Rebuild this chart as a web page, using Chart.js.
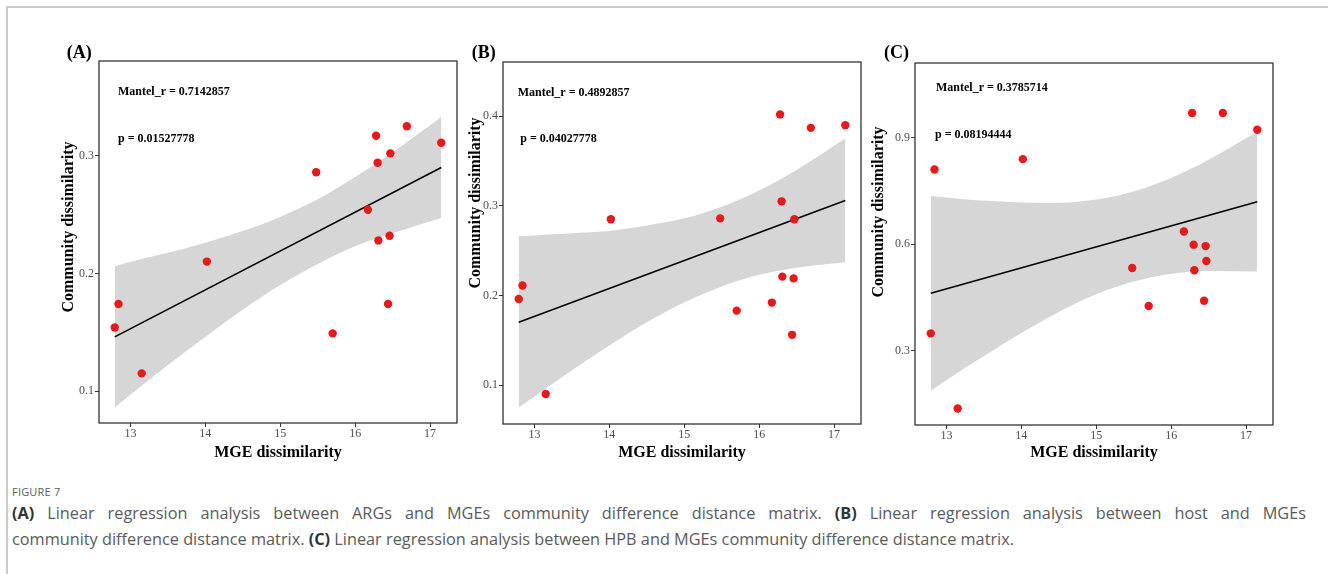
<!DOCTYPE html>
<html>
<head>
<meta charset="utf-8">
<script src="https://cdn.jsdelivr.net/npm/chart.js@4.4.1/dist/chart.umd.min.js"></script>
<style>
  html, body { margin: 0; padding: 0; background: #fff; }
  body { width: 1328px; height: 574px; position: relative; overflow: hidden; }
  .frame { position: absolute; left: 6px; top: 6px; width: 1330px; height: 570px;
           border-top: 2px solid #cbcbcb; border-left: 2px solid #cbcbcb; }
  .panel { position: absolute; top: 40px; height: 430px; }
  .caption { position: absolute; left: 12px; top: 484px; font-family: "Open Sans", sans-serif; color: #5a5a5a; }
  .caption .fig { font-size: 11px; line-height: 16px; letter-spacing: 0.2px; }
  .caption .line { font-size: 16.3px; line-height: 26px; white-space: nowrap; }
  .caption .just { width: 1294px; text-align: justify; text-align-last: justify; }
  .caption b { color: #333; }
</style>
</head>
<body>
<div class="frame"></div>
<div class="panel" style="left:40px;width:425px"><canvas id="chartA" width="425" height="430"></canvas></div>
<div class="panel" style="left:466px;width:405px"><canvas id="chartB" width="405" height="430"></canvas></div>
<div class="panel" style="left:870px;width:410px"><canvas id="chartC" width="410" height="430"></canvas></div>
<div class="caption">
  <div class="fig">FIGURE 7</div>
  <div class="line just"><b>(A)</b> Linear regression analysis between ARGs and MGEs community difference distance matrix. <b>(B)</b> Linear regression analysis between host and MGEs</div>
  <div class="line">community difference distance matrix. <b>(C)</b> Linear regression analysis between HPB and MGEs community difference distance matrix.</div>
</div>
<script>
Chart.defaults.font.family = "'Liberation Serif', 'Times New Roman', serif";
Chart.defaults.animation = false;

// MGE dissimilarity, same x for all three panels
const mgeDissim = [12.79, 12.84, 13.15, 14.02, 15.48, 15.70, 16.17, 16.28, 16.30, 16.31, 16.44, 16.46, 16.47, 16.69, 17.15];

// community dissimilarity per panel
const argDissim  = [0.154, 0.174, 0.115, 0.210, 0.286, 0.149, 0.254, 0.317, 0.294, 0.228, 0.174, 0.232, 0.302, 0.325, 0.311];
const hostDissim = [0.196, 0.211, 0.090, 0.285, 0.286, 0.183, 0.192, 0.402, 0.305, 0.221, 0.156, 0.219, 0.285, 0.387, 0.390];
const hpbDissim  = [0.349, 0.811, 0.137, 0.840, 0.533, 0.426, 0.636, 0.970, 0.599, 0.527, 0.441, 0.595, 0.553, 0.970, 0.923];

// fitted lines (ends)
const fitX = [12.79, 17.15];
const fitA = [0.146, 0.290];
const fitB = [0.170, 0.306];
const fitC = [0.462, 0.720];

// confidence band edges
const bandX = [12.79, 13.2, 13.6, 14.0, 14.5, 15.0, 15.5, 16.0, 16.5, 17.15];
const upperA = [0.206, 0.213, 0.219, 0.226, 0.236, 0.248, 0.263, 0.282, 0.303, 0.333];
const lowerA = [0.086, 0.107, 0.127, 0.146, 0.169, 0.190, 0.208, 0.223, 0.234, 0.247];
const upperB = [0.266, 0.268, 0.270, 0.272, 0.278, 0.286, 0.299, 0.317, 0.340, 0.375];
const lowerB = [0.075, 0.099, 0.122, 0.144, 0.170, 0.192, 0.210, 0.223, 0.231, 0.237];
const upperC = [0.736, 0.728, 0.722, 0.718, 0.717, 0.726, 0.749, 0.787, 0.838, 0.917];
const lowerC = [0.187, 0.245, 0.298, 0.350, 0.409, 0.459, 0.495, 0.517, 0.525, 0.523];

const xTicks = [13, 14, 15, 16, 17];
const yTicksA = [0.1, 0.2, 0.3];
const yTicksB = [0.1, 0.2, 0.3, 0.4];
const yTicksC = [0.3, 0.6, 0.9];

const panels = [
  { id: "chartA", letter: "(A)", mantel: "Mantel_r = 0.7142857", p: "p = 0.01527778",
    y: argDissim, fit: fitA, upper: upperA, lower: lowerA, yTicks: yTicksA, yMin: 0.0728, yMax: 0.3805,
    yAxisW: 59, padTop: 21, xAxisH: 47, padRight: 8,
    letterX: 26.7, mantelX: 78, mantelY: 52.3, pX: 78, pY: 99, titleX: 29, titleY: 187 },
  { id: "chartB", letter: "(B)", mantel: "Mantel_r = 0.4892857", p: "p = 0.04027778",
    y: hostDissim, fit: fitB, upper: upperB, lower: lowerB, yTicks: yTicksB, yMin: 0.0565, yMax: 0.4605,
    yAxisW: 37, padTop: 22, xAxisH: 46, padRight: 10,
    letterX: 5.7, mantelX: 51.7, mantelY: 52.7, pX: 54.3, pY: 99.3, titleX: 9.7, titleY: 163 },
  { id: "chartC", letter: "(C)", mantel: "Mantel_r = 0.3785714", p: "p = 0.08194444",
    y: hpbDissim, fit: fitC, upper: upperC, lower: lowerC, yTicks: yTicksC, yMin: 0.0907, yMax: 1.111,
    yAxisW: 45, padTop: 23, xAxisH: 45, padRight: 7,
    letterX: 14, mantelX: 66, mantelY: 48.3, pX: 65, pY: 95, titleX: 9.3, titleY: 172 },
];

// panel box, letters, annotations and rotated y title
const panelDecor = {
  id: "panelDecor",
  afterDraw(chart, args, opts) {
    const { ctx, chartArea: a } = chart;
    ctx.save();
    ctx.strokeStyle = "#333";
    ctx.lineWidth = 1.3;
    ctx.strokeRect(a.left, a.top, a.right - a.left, a.bottom - a.top);

    ctx.fillStyle = "#000";
    ctx.textBaseline = "middle";
    ctx.font = "bold 18px 'Liberation Serif'";
    ctx.fillText(opts.letter, opts.letterX, 13);
    ctx.font = "bold 12px 'Liberation Serif'";
    ctx.fillText(opts.mantel, opts.mantelX, opts.mantelY);
    ctx.fillText(opts.p, opts.pX, opts.pY);

    ctx.font = "bold 16px 'Liberation Serif'";
    ctx.textAlign = "center";
    ctx.translate(opts.titleX, opts.titleY);
    ctx.rotate(-Math.PI / 2);
    ctx.fillText("Community dissimilarity", 0, 0);
    ctx.restore();
  },
};

const tickGrid = { display: true, drawOnChartArea: false, drawTicks: true, tickLength: 4, color: "#333", lineWidth: 1 };

panels.forEach((pn) => {
  const toPoints = (xs, ys) => xs.map((x, i) => ({ x: x, y: ys[i] }));

  new Chart(document.getElementById(pn.id), {
    type: "scatter",
    data: {
      datasets: [
        { data: toPoints(mgeDissim, pn.y), backgroundColor: "#e41a1c", borderWidth: 0, pointRadius: 4.2, order: 1 },
        { data: toPoints(fitX, pn.fit), showLine: true, borderColor: "#000", borderWidth: 1.5, pointRadius: 0, order: 2 },
        { data: toPoints(bandX, pn.upper), showLine: true, borderWidth: 0, borderColor: "rgba(0,0,0,0)",
          backgroundColor: "#d6d6d6", fill: "+1", pointRadius: 0, cubicInterpolationMode: "monotone", order: 3 },
        { data: toPoints(bandX, pn.lower), showLine: true, borderWidth: 0, borderColor: "rgba(0,0,0,0)",
          pointRadius: 0, cubicInterpolationMode: "monotone", order: 4 },
      ],
    },
    options: {
      responsive: false,
      layout: { padding: { left: 0, top: pn.padTop, right: pn.padRight, bottom: 0 } },
      events: [],
      scales: {
        x: {
          type: "linear",
          min: 12.58,
          max: 17.36,
          afterBuildTicks: (s) => { s.ticks = xTicks.map((v) => ({ value: v })); },
          afterFit: (s) => { s.height = pn.xAxisH; },
          grid: tickGrid,
          border: { display: false },
          ticks: { color: "#4d4d4d", font: { size: 12 }, padding: 0, maxRotation: 0, callback: (v) => String(v) },
          title: { display: true, text: "MGE dissimilarity", color: "#000",
                   font: { size: 16, weight: "bold" }, padding: { top: 0, bottom: 8 } },
        },
        y: {
          type: "linear",
          min: pn.yMin,
          max: pn.yMax,
          afterBuildTicks: (s) => { s.ticks = pn.yTicks.map((v) => ({ value: v })); },
          afterFit: (s) => { s.width = pn.yAxisW; },
          grid: tickGrid,
          border: { display: false },
          ticks: { color: "#4d4d4d", font: { size: 12 }, padding: 1, callback: (v) => v.toFixed(1) },
        },
      },
      plugins: {
        legend: { display: false },
        tooltip: { enabled: false },
        panelDecor: pn,
      },
    },
    plugins: [panelDecor],
  });
});
</script>
</body>
</html>
